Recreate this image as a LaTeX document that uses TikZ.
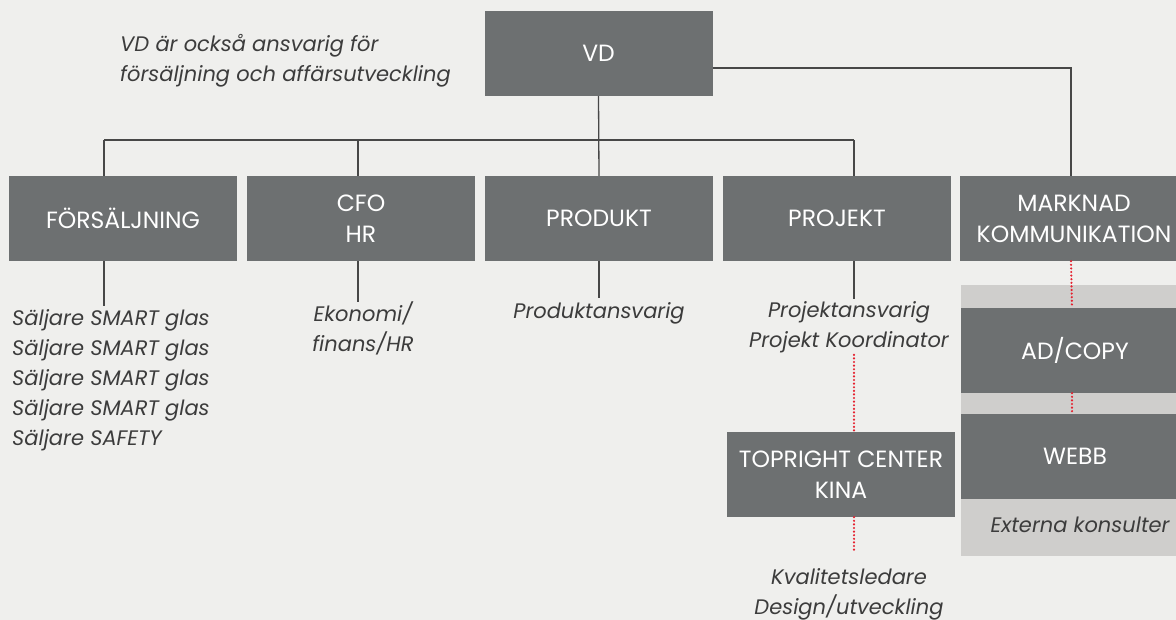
\documentclass[tikz,border=0pt]{standalone}
\usepackage{fontspec}
\setmainfont{Poppins}
\usepackage{tikz}
\usetikzlibrary{positioning, calc}
\definecolor{bgcol}{HTML}{EFEFED}
\definecolor{boxcol}{HTML}{6D7071}
\definecolor{panelcol}{HTML}{CFCECC}
\definecolor{notecol}{HTML}{3C3C3C}
\definecolor{dotcol}{HTML}{E5202E}
\tikzstyle{box}=[fill=boxcol, text=white, minimum width=228pt, minimum height=85pt, align=center, inner sep=0pt, font=\fontsize{23.5}{31}\selectfont]
\tikzstyle{note}=[text=notecol, align=center, inner sep=0pt, font=\itshape\fontsize{21}{30}\selectfont]
\tikzstyle{conn}=[draw=black!72, line width=1.3pt]
\tikzstyle{reddot}=[draw=dotcol, line width=2.4pt, line cap=round, dash pattern=on 0pt off 3.6pt]

\begin{document}
\begin{tikzpicture}[x=1pt, y=-1pt]
    % 背景
    \useasboundingbox (0,0) rectangle (1176,620);
    \clip (0,0) rectangle (1176,620);
    \fill[bgcol] (0,0) rectangle (1176,620);

    % 外部コンサルタントのパネル
    \fill[panelcol] (961,285) rectangle (1189,556);

    % VD
    \node[box] (vd) at (598.5,53.5) {VD};
    \node[note, anchor=north west, align=left] (vdnote) at (120,34) {VD är också ansvarig för\\försäljning och affärsutveckling};

    % 部門
    \node[box] (forsaljning) at (123,218.5) {FÖRSÄLJNING};
    \node[box] (cfo) at (361,218.5) {CFO\\HR};
    \node[box] (produkt) at (599,218.5) {PRODUKT};
    \node[box] (projekt) at (837,218.5) {PROJEKT};
    \node[box] (marknad) at (1074,218.5) {MARKNAD\\KOMMUNIKATION};

    % マーケティングの下位
    \node[box] (adcopy) at (1075,350.5) {AD/COPY};
    \node[box] (webb) at (1075,456.5) {WEBB};
    \node[note, anchor=base] (externa) at (1080,532) {Externa konsulter};

    % 中国のセンター
    \node[box] (topright) at (841,474.5) {TOPRIGHT CENTER\\KINA};

    % 各部門の担当
    \node[note, anchor=north west, align=left] (saljare) at (12,309) {Säljare SMART glas\\Säljare SMART glas\\Säljare SMART glas\\Säljare SMART glas\\Säljare SAFETY};
    \node[note, anchor=north] (ekonomi) at (363,302) {Ekonomi/\\finans/HR};
    \node[note, anchor=north] (produktansv) at (599,302) {Produktansvarig};
    \node[note, anchor=north] (projektansv) at (849,301) {Projektansvarig\\Projekt Koordinator};
    \node[note, anchor=north] (kvalitet) at (849,568) {Kvalitetsledare\\Design/utveckling};

    % 組織線
    \coordinate (busW) at (104,140);
    \coordinate (busE) at (854,140);
    \draw[conn] (busW) -- (busE);
    \draw[conn] (vd.south) -- (produkt.north);
    \draw[conn] (busW) -- (busW |- forsaljning.north);
    \draw[conn] (358,140) -- ([xshift=-3pt]cfo.north);
    \draw[conn] (busE) -- (busE |- projekt.north);
    \draw[conn] ([yshift=-14.5pt]vd.east) -| ([xshift=-3pt]marknad.north);

    % 担当への線
    \draw[conn] ([xshift=-19pt]forsaljning.south) -- ([xshift=-19pt, yshift=3pt]forsaljning.south |- saljare.north);
    \draw[conn] ([xshift=-3pt]cfo.south) -- ([xshift=-3pt]cfo.south |- ekonomi.north);
    \draw[conn] (produkt.south) -- ([yshift=4pt]produkt.south |- produktansv.north);
    \draw[conn] (busE |- projekt.south) -- ([yshift=2pt]busE |- projektansv.north);

    % 点線
    \draw[reddot] ([yshift=-2pt]busE |- projektansv.south) -- (busE |- topright.north);
    \draw[reddot] (busE |- topright.south) -- ([yshift=16pt]busE |- kvalitet.north);
    \draw[reddot] ([xshift=-3pt]marknad.south) -- ([xshift=-3pt]adcopy.north);
    \draw[reddot] ([xshift=-3pt]adcopy.south) -- ([xshift=-3pt]webb.north);
  \end{tikzpicture}
\end{document}
